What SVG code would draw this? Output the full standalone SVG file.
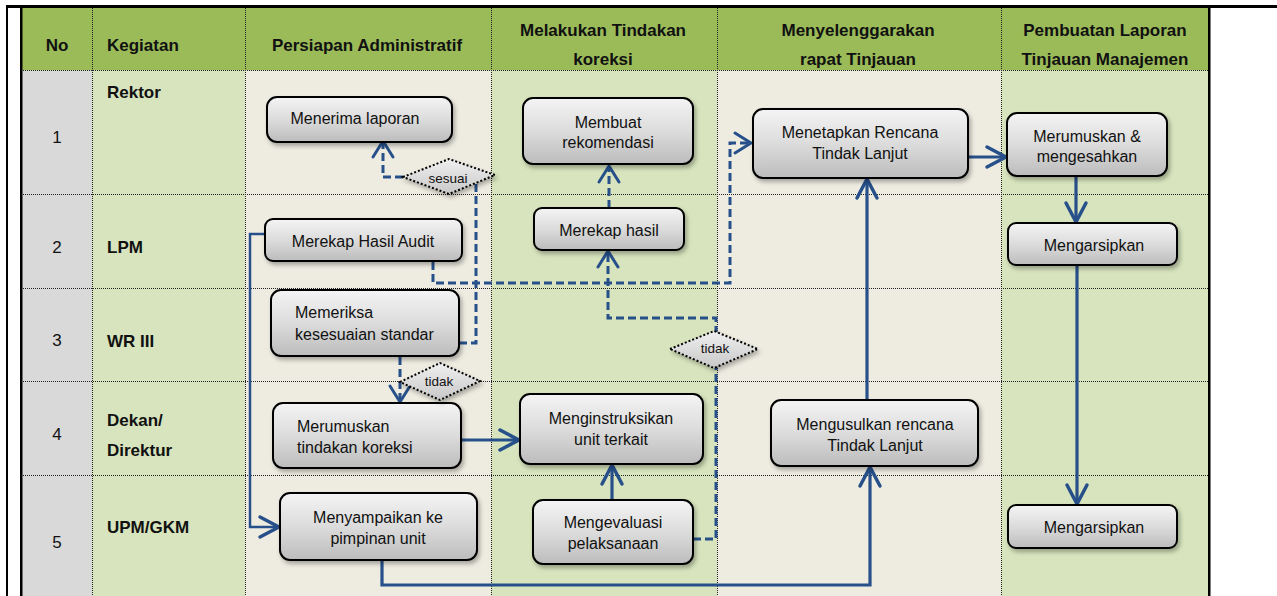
<svg xmlns="http://www.w3.org/2000/svg" width="1277" height="596" viewBox="0 0 1277 596">
<style>
text{font-family:"Liberation Sans",Arial,Helvetica,sans-serif;fill:#111}
.hd{font-size:17px;font-weight:bold;text-anchor:middle}
.lb{font-size:17px;font-weight:bold}
.num{font-size:17px;text-anchor:middle}
.nt{font-size:16px;text-anchor:middle}
.ntl{font-size:16px}
.dt{font-size:13.5px;text-anchor:middle}
.grid{stroke:#222;stroke-width:1;stroke-dasharray:1 1;fill:none}
.node{fill:url(#ng);stroke:#000;stroke-width:2;filter:url(#sh)}
.dia{fill:url(#dg);stroke:#000;stroke-width:2;stroke-dasharray:2 2;filter:url(#sh)}
.cs{fill:none;stroke:#27508A;stroke-width:3.2;stroke-linejoin:miter}
.cd{fill:none;stroke:#27508A;stroke-width:3;stroke-dasharray:8 4}
.ah{fill:none;stroke:#27508A;stroke-width:3.5;stroke-linecap:round;stroke-linejoin:round;stroke-dasharray:none}
</style>
<defs>
<linearGradient id="ng" x1="0" y1="0" x2="0" y2="1">
<stop offset="0" stop-color="#F4F4F4"/>
<stop offset="0.5" stop-color="#DCDCDC"/>
<stop offset="1" stop-color="#BCBCBC"/>
</linearGradient>
<linearGradient id="dg" x1="0" y1="0" x2="0" y2="1">
<stop offset="0" stop-color="#F0F0F0"/>
<stop offset="1" stop-color="#C8C8C8"/>
</linearGradient>
<filter id="sh" x="-20%" y="-20%" width="140%" height="150%">
<feDropShadow dx="2" dy="3" stdDeviation="2" flood-color="#000" flood-opacity="0.3"/>
</filter>
<marker id="as" markerUnits="userSpaceOnUse" viewBox="-22 -13 26 26" refX="0" refY="0" markerWidth="26" markerHeight="26" orient="auto" overflow="visible">
<path class="ah" d="M-19,-10 L0,0 L-19,10"/>
</marker>
<marker id="ad" markerUnits="userSpaceOnUse" viewBox="-22 -13 26 26" refX="0" refY="0" markerWidth="26" markerHeight="26" orient="auto" overflow="visible">
<path class="ah" style="stroke-width:3" d="M-16,-10 L0,0 L-16,10"/>
</marker>
</defs>

<g id="table">
<rect x="0" y="0" width="1277" height="596" fill="#fff"/>
<rect x="21" y="8" width="1188" height="62.5" fill="#9BBB59"/>
<rect x="21" y="70.5" width="71" height="526" fill="#D9D9D9"/>
<rect x="92" y="70.5" width="153" height="526" fill="#D7E4BD"/>
<rect x="245" y="70.5" width="246" height="526" fill="#EEECE1"/>
<rect x="491" y="70.5" width="226" height="526" fill="#D7E4BD"/>
<rect x="717" y="70.5" width="284" height="526" fill="#EEECE1"/>
<rect x="1001" y="70.5" width="208" height="526" fill="#D7E4BD"/>
<path class="grid" d="M92.5,8V596M245.5,8V596M491.5,8V596M717.5,8V596M1001.5,8V596M21,70.5H1209M21,194.5H1209M21,288.5H1209M21,381.5H1209M21,475.5H1209"/>
<rect x="6" y="5" width="1271" height="3" fill="#000"/>
<rect x="6" y="5" width="2" height="591" fill="#000"/>
<rect x="20" y="5" width="2.5" height="591" fill="#000"/>
<rect x="1208" y="5" width="2.5" height="591" fill="#000"/>
<text class="hd" x="57" y="51">No</text>
<text class="lb" x="107" y="51">Kegiatan</text>
<text class="hd" x="367" y="51">Persiapan Administratif</text>
<text class="hd" x="603" y="36">Melakukan Tindakan</text>
<text class="hd" x="603" y="65">koreksi</text>
<text class="hd" x="858" y="36">Menyelenggarakan</text>
<text class="hd" x="858" y="65">rapat Tinjauan</text>
<text class="hd" x="1105" y="36">Pembuatan Laporan</text>
<text class="hd" x="1105" y="65">Tinjauan Manajemen</text>
<text class="num" x="57" y="143">1</text>
<text class="num" x="57" y="253">2</text>
<text class="num" x="57" y="346">3</text>
<text class="num" x="57" y="440">4</text>
<text class="num" x="57" y="548">5</text>
<text class="lb" x="107" y="98">Rektor</text>
<text class="lb" x="107" y="253">LPM</text>
<text class="lb" x="107" y="347">WR III</text>
<text class="lb" x="107" y="426">Dekan/</text>
<text class="lb" x="107" y="456">Direktur</text>
<text class="lb" x="107" y="533">UPM/GKM</text>
</g>

<g id="connectors">
<path class="cd" d="M403,177 L383,177 L383,141" marker-end="url(#ad)"/>
<path class="cd" d="M459,343 L476,343 L476,179"/>
<path class="cd" d="M400,357 L400,402" marker-end="url(#ad)"/>
<path class="cd" d="M433,262 L433,283 L730,283 L730,143 L751,143" marker-end="url(#ad)"/>
<path class="cd" d="M609,208 L609,166" marker-end="url(#ad)"/>
<path class="cd" d="M693,539 L716,539 L716,318 L608,318 L608,251" marker-end="url(#ad)"/>
<path class="cs" d="M461,440 L519,440" marker-end="url(#as)"/>
<path class="cs" d="M612,500 L612,465" marker-end="url(#as)"/>
<path class="cs" d="M382,561 L382,585 L870,585 L870,467" marker-end="url(#as)"/>
<path class="cs" d="M867,400 L867,179" marker-end="url(#as)"/>
<path class="cs" d="M968,157 L1006,157" marker-end="url(#as)"/>
<path class="cs" d="M1076,177 L1076,222" marker-end="url(#as)"/>
<path class="cs" d="M1077,266 L1077,504" marker-end="url(#as)"/>
<path class="cs" style="stroke-width:2.5" d="M266,234 L250,234 L250,527 L279,527" marker-end="url(#as)"/>
</g>

<g id="n-menerima">
<rect class="node" x="267" y="97" width="185" height="45" rx="10"/>
<text class="nt" x="355" y="124">Menerima laporan</text>
</g>
<g id="n-membuat">
<rect class="node" x="523" y="98" width="170" height="66" rx="10"/>
<text class="nt" x="608" y="128">Membuat</text>
<text class="nt" x="608" y="148">rekomendasi</text>
</g>
<g id="n-menetapkan">
<rect class="node" x="753" y="109" width="215" height="69" rx="10"/>
<text class="nt" x="860" y="138">Menetapkan Rencana</text>
<text class="nt" x="860" y="159">Tindak Lanjut</text>
</g>
<g id="n-merumuskan-sah">
<rect class="node" x="1007" y="113" width="160" height="63" rx="10"/>
<text class="nt" x="1087" y="142">Merumuskan &amp;</text>
<text class="nt" x="1087" y="162">mengesahkan</text>
</g>
<g id="n-arsip1">
<rect class="node" x="1008" y="223" width="169" height="42" rx="8"/>
<text class="nt" x="1094" y="251">Mengarsipkan</text>
</g>
<g id="n-arsip2">
<rect class="node" x="1008" y="505" width="169" height="43" rx="8"/>
<text class="nt" x="1094" y="533">Mengarsipkan</text>
</g>
<g id="n-mengusulkan">
<rect class="node" x="771" y="400" width="207" height="66" rx="10"/>
<text class="nt" x="875" y="430">Mengusulkan rencana</text>
<text class="nt" x="875" y="451">Tindak Lanjut</text>
</g>
<g id="n-merekap-audit">
<rect class="node" x="265" y="219" width="197" height="42" rx="8"/>
<text class="nt" x="363" y="247">Merekap Hasil Audit</text>
</g>
<g id="n-merekap-hasil">
<rect class="node" x="534" y="208" width="150" height="42" rx="8"/>
<text class="nt" x="609" y="236">Merekap hasil</text>
</g>
<g id="n-memeriksa">
<rect class="node" x="271" y="290" width="188" height="66" rx="10"/>
<text class="ntl" x="295" y="318">Memeriksa</text>
<text class="ntl" x="295" y="340">kesesuaian standar</text>
</g>
<g id="n-merumuskan-tindakan">
<rect class="node" x="273" y="403" width="188" height="65" rx="10"/>
<text class="ntl" x="297" y="432">Merumuskan</text>
<text class="ntl" x="297" y="453">tindakan koreksi</text>
</g>
<g id="n-menyampaikan">
<rect class="node" x="280" y="493" width="197" height="67" rx="10"/>
<text class="nt" x="378" y="523">Menyampaikan ke</text>
<text class="nt" x="378" y="544">pimpinan unit</text>
</g>
<g id="n-menginstruksikan">
<rect class="node" x="520" y="394" width="183" height="70" rx="10"/>
<text class="nt" x="611" y="424">Menginstruksikan</text>
<text class="nt" x="611" y="445">unit terkait</text>
</g>
<g id="n-mengevaluasi">
<rect class="node" x="533" y="500" width="160" height="64" rx="10"/>
<text class="nt" x="613" y="528">Mengevaluasi</text>
<text class="nt" x="613" y="549">pelaksanaan</text>
</g>
<g id="d-sesuai">
<polygon class="dia" points="403,177 449,159 495,175 449,194"/>
<text class="dt" x="448" y="183">sesuai</text>
</g>
<g id="d-tidak1">
<polygon class="dia" points="400,382 440,363 480,381 440,400"/>
<text class="dt" x="439" y="386">tidak</text>
</g>
<g id="d-tidak2">
<polygon class="dia" points="670,349 714,331 758,349 714,368"/>
<text class="dt" x="715" y="353">tidak</text>
</g>
</svg>
